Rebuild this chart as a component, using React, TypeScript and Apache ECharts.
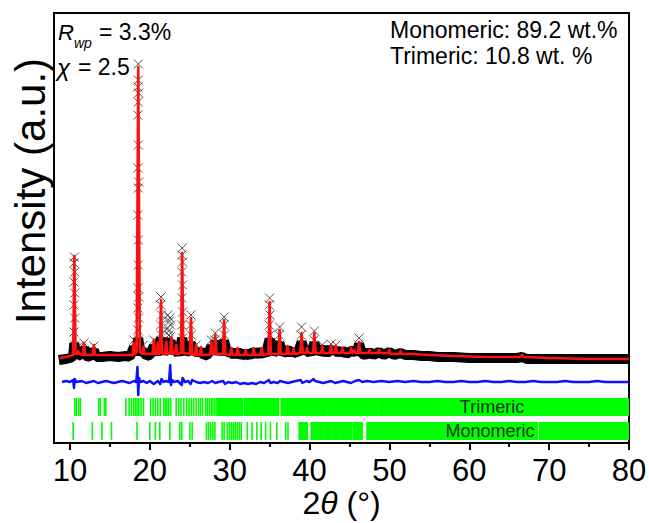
import { useEffect, useRef } from 'react';
import * as echarts from 'echarts';

// ---------- data (2θ in degrees, intensity in a.u.) ----------
const xTickValues = [10, 20, 30, 40, 50, 60, 70, 80];
const xMinorTickValues = [15, 25, 35, 45, 55, 65, 75];

// calculated profile (red)
const calcCurve: [number, number][] = [
  [8.7, 85], [9.5, 86], [10.0, 87], [10.4, 88], [10.55, 187], [10.7, 89], [10.95, 89], [11.05, 92], [11.15, 89],
  [11.6, 88], [11.75, 100], [11.9, 88], [12.85, 88], [13.0, 98], [13.15, 88], [14.0, 88], [15.0, 88], [16.0, 88],
  [17.0, 88], [17.85, 88], [18.0, 100], [18.15, 89], [18.35, 91], [18.55, 376], [18.75, 91], [19.05, 89], [19.2, 96],
  [19.35, 89], [20.35, 89], [20.5, 103], [20.65, 89], [20.85, 89], [21.0, 100], [21.15, 89], [21.25, 90], [21.4, 143],
  [21.55, 90], [21.9, 89], [22.05, 101], [22.2, 89], [22.55, 90], [22.7, 106], [22.85, 90], [23.15, 89], [23.3, 98],
  [23.45, 89], [23.9, 90], [24.05, 190], [24.2, 90], [25.0, 89], [25.15, 125], [25.3, 89], [25.65, 88], [25.8, 98],
  [25.95, 88], [26.3, 88], [26.4, 96], [26.5, 88], [27.55, 88], [27.7, 101], [27.85, 89], [28.05, 89], [28.2, 108],
  [28.35, 89], [29.15, 89], [29.3, 123], [29.45, 89], [30.05, 88], [30.2, 95], [30.35, 88], [30.85, 88], [31.0, 95],
  [31.15, 88], [31.85, 88], [32.0, 93], [32.15, 88], [32.85, 88], [33.0, 95], [33.15, 88], [33.85, 88], [34.0, 95],
  [34.15, 88], [34.85, 89], [35.0, 141], [35.15, 89], [36.1, 89], [36.25, 113], [36.4, 89], [37.1, 89], [37.25, 97],
  [37.4, 89], [37.85, 89], [38.0, 94], [38.15, 89], [38.85, 90], [39.0, 110], [39.15, 90], [39.55, 90], [39.7, 95],
  [39.85, 90], [40.45, 90], [40.6, 110], [40.75, 90], [41.45, 90], [41.6, 97], [41.75, 90], [42.55, 90], [42.7, 98],
  [42.85, 90], [43.15, 90], [43.3, 97], [43.45, 90], [43.95, 90], [44.1, 95], [44.25, 90], [45.05, 90], [45.2, 95],
  [45.35, 90], [45.5, 91], [45.6, 93], [45.75, 90], [46.05, 90], [46.2, 101], [46.35, 90], [47.35, 90], [47.5, 93],
  [47.65, 90], [48.55, 90], [48.7, 93], [48.85, 90], [49.85, 90], [50.0, 93], [50.15, 89], [51.25, 89], [51.4, 92],
  [51.55, 89], [53.0, 89], [55.0, 88], [58.0, 87], [62.0, 86], [66.3, 86], [66.6, 88], [66.9, 86], [70.0, 85],
  [75.0, 84], [80.0, 84],
];

// observed data: dense background trace
const obsBackground: [number, number][] = [
  [8.6, 83], [9.5, 84], [10.0, 85], [10.4, 87], [10.55, 100], [10.7, 88], [11.0, 89], [11.5, 87], [11.75, 96],
  [12.0, 87], [12.5, 86], [13.0, 93], [13.3, 86], [14.0, 86], [15.0, 87], [16.0, 86], [17.0, 87], [17.5, 86],
  [18.0, 96], [18.3, 88], [18.55, 105], [18.8, 89], [19.2, 92], [19.6, 87], [20.0, 88], [20.5, 97], [20.8, 88],
  [21.0, 95], [21.4, 105], [21.7, 89], [22.05, 96], [22.3, 100], [22.6, 102], [22.9, 90], [23.3, 94], [23.6, 88],
  [24.05, 105], [24.4, 89], [25.15, 100], [25.5, 89], [25.8, 94], [26.1, 88], [26.4, 93], [26.8, 87], [27.3, 89],
  [27.7, 97], [28.0, 90], [28.2, 102], [28.6, 89], [29.3, 102], [29.7, 89], [30.2, 92], [30.6, 87], [31.0, 92],
  [31.5, 87], [32.0, 90], [32.5, 87], [33.0, 92], [33.5, 88], [34.0, 92], [34.5, 88], [35.0, 104], [35.4, 89],
  [36.25, 100], [36.6, 89], [37.25, 94], [37.7, 89], [38.0, 92], [38.5, 89], [39.0, 101], [39.4, 90], [39.7, 93],
  [40.1, 89], [40.6, 100], [41.0, 90], [41.6, 95], [42.1, 89], [42.7, 95], [43.0, 90], [43.3, 94], [43.7, 89],
  [44.1, 93], [44.6, 89], [45.2, 92], [45.6, 92], [45.9, 89], [46.2, 99], [46.6, 89], [47.0, 88], [47.5, 91],
  [48.0, 88], [48.7, 91], [49.3, 88], [50.0, 91], [50.6, 88], [51.4, 90], [52.0, 88], [53.0, 88], [54.0, 87],
  [55.0, 87], [56.0, 86], [57.0, 86], [58.0, 86], [60.0, 85], [62.0, 85], [64.0, 85], [66.0, 85], [66.6, 86],
  [67.2, 84], [68.0, 84], [70.0, 84], [72.0, 84], [74.0, 84], [76.0, 84], [78.0, 84], [80.0, 84],
];

// observed data points on the Bragg peaks
const obsPeakPoints: [number, number][] = [
  [10.55, 186], [10.5, 180], [10.6, 171], [10.5, 161], [10.6, 150], [10.5, 138], [10.6, 125], [10.5, 111], [10.6, 98],
  [11.1, 97], [11.75, 100], [13.0, 97],
  [18.55, 379], [18.55, 363], [18.5, 356], [18.6, 350], [18.55, 341], [18.5, 328], [18.55, 298], [18.5, 275],
  [18.6, 261], [18.55, 255], [18.5, 228], [18.55, 203], [18.55, 178], [18.5, 155], [18.6, 146], [18.5, 135],
  [18.6, 125], [18.5, 113], [18.6, 103],
  [18.0, 103], [19.2, 98], [20.5, 103], [21.0, 100],
  [21.4, 146], [21.35, 138], [21.45, 128], [21.35, 118], [21.45, 108], [21.4, 98],
  [22.25, 128], [22.45, 122], [22.6, 118], [22.35, 112], [22.55, 106], [22.3, 101], [22.7, 98], [22.5, 125],
  [22.2, 115], [22.4, 108],
  [24.05, 195], [24.0, 188], [24.1, 181], [24.0, 171], [24.1, 158], [24.0, 145], [24.1, 131], [24.0, 118], [24.1, 105],
  [25.15, 128], [25.1, 118], [25.2, 108], [25.15, 98],
  [25.8, 98], [27.7, 103], [28.2, 110], [28.15, 103],
  [29.3, 126], [29.25, 118], [29.35, 108], [29.3, 98],
  [35.0, 145], [34.95, 138], [35.05, 128], [34.95, 118], [35.05, 108], [35.0, 98],
  [36.25, 116], [36.2, 108], [36.3, 98],
  [39.0, 116], [38.95, 108], [39.05, 98],
  [40.6, 112], [40.55, 103], [41.6, 98], [42.7, 99], [43.3, 98], [46.2, 105], [46.15, 98],
];

// difference (obs - calc), plotted with an offset
const diffCurve: [number, number][] = [
  [9.0, 0], [9.5, 1], [10.0, 0], [10.4, 2], [10.5, -6], [10.6, 3], [10.8, 0], [11.5, 1], [12.0, -1], [12.5, 0],
  [13.0, 1], [13.5, -1], [14.0, 0], [14.5, 1], [15.0, 0], [15.5, -1], [16.0, 0], [16.5, 1], [17.0, 0], [17.5, -1],
  [18.0, 1], [18.3, 0], [18.45, 15], [18.55, -13], [18.65, 4], [18.8, 0], [19.2, 1], [19.6, -1], [20.0, 1],
  [20.5, -2], [21.0, 1], [21.3, -2], [21.45, 3], [21.7, 0], [22.0, 1], [22.4, 0], [22.55, 17], [22.65, -3],
  [22.8, 2], [23.0, 0], [23.5, 1], [24.0, -3], [24.1, 4], [24.4, 0], [24.8, 1], [25.1, -2], [25.3, 2], [25.8, 0],
  [26.3, -1], [26.8, 0], [27.3, -1], [27.8, 1], [28.2, -1], [28.6, 0], [29.2, 1], [29.4, -2], [29.8, 0],
  [30.3, -1], [30.8, 0], [31.3, -2], [31.8, -1], [32.3, -2], [32.8, -1], [33.3, -2], [33.8, 0], [34.3, -1],
  [34.9, 2], [35.1, -1], [35.5, 0], [36.0, -1], [36.3, 1], [36.8, 0], [37.3, -1], [37.8, 0], [38.3, 1], [38.9, 2],
  [39.1, -1], [39.6, 1], [40.0, 0], [40.5, 3], [40.7, 1], [41.2, 0], [41.7, -1], [42.2, 0], [42.7, 1], [43.2, -1],
  [43.7, 0], [44.2, 1], [44.7, 0], [45.2, -1], [45.7, 1], [46.2, 2], [46.6, 0], [47.2, 1], [48.0, 0], [49.0, 1],
  [50.0, 0], [51.0, 1], [52.0, 0], [53.0, 1], [54.0, 0], [55.0, 0], [56.0, 1], [57.0, 0], [58.0, 0], [59.0, 1],
  [60.0, 0], [61.0, 0], [62.0, 1], [63.0, 0], [64.0, 0], [65.0, 1], [66.0, 0], [67.0, 0], [68.0, 1], [69.0, 0],
  [70.0, 0], [71.0, 0], [72.0, 1], [73.0, 0], [74.0, 0], [75.0, 0], [76.0, 1], [77.0, 0], [78.0, 0], [79.0, 0],
  [80.0, 0],
];

// Bragg reflection positions
const trimericLines: number[] = [
  10.6, 10.8, 11.1, 11.3, 13.6, 13.8, 14.3, 14.5, 17.0, 17.4, 17.7, 18.0, 18.2, 18.4, 18.6, 18.9, 19.2, 20.1,
  20.4, 20.7, 21.0, 21.3, 21.75, 21.95, 22.15, 22.35, 22.6, 23.3, 23.6, 23.9, 24.25, 24.6, 24.9, 25.2, 25.5, 25.8,
  26.1, 26.35, 26.6, 27.0, 27.2, 27.45, 27.7, 27.9, 28.15,
];
const trimericRanges: [number, number][] = [
  [28.4, 31.6], [31.85, 36.1], [36.45, 42.15], [42.3, 45.85], [46.0, 48.55], [48.7, 80],
];
const monomericLines: number[] = [
  10.4, 12.8, 14.0, 15.2, 18.4, 20.0, 20.7, 21.25, 22.5, 23.75, 24.0, 25.0, 25.3, 27.1, 27.35, 27.6, 27.9, 28.15,
  29.05, 29.3, 29.7, 29.95, 30.2, 30.45, 30.7, 30.95, 31.2, 31.45, 32.2, 32.8, 33.4, 33.95, 34.5, 35.1, 35.9,
  37.0, 37.3,
];
const monomericRanges: [number, number][] = [
  [38.7, 39.7], [40.2, 40.9], [41.05, 41.8], [41.95, 42.8], [42.95, 43.8], [43.95, 45.3], [45.5, 46.6],
  [47.2, 51.6], [51.75, 68.5], [68.8, 80],
];

// ---------- layout / style ----------
const DIFF_OFFSET = 61;
const TRI_ROW: [number, number] = [27, 45];
const MONO_ROW: [number, number] = [3, 21];
const FONT = "'Liberation Sans', Arial, Helvetica, sans-serif";
const GREEN = '#00ff00';

function tickSeries(name: string, lines: number[], ranges: [number, number][], row: [number, number]) {
  const data = lines.map((p) => [p, p] as [number, number]).concat(ranges);
  return {
    type: 'custom',
    name,
    data,
    encode: { x: [0, 1] },
    clip: true,
    z: 2,
    renderItem: (_params: any, api: any) => {
      const s = api.value(0);
      const e = api.value(1);
      const p0 = api.coord([s, row[1]]);
      const p1 = api.coord([e, row[0]]);
      return {
        type: 'rect',
        shape: { x: p0[0] - 0.8, y: p0[1], width: Math.max(p1[0] - p0[0], 0) + 1.6, height: p1[1] - p0[1] },
        style: { fill: GREEN },
      };
    },
  };
}

export default function App() {
  const ref = useRef<HTMLDivElement>(null);
  useEffect(() => {
    if (!ref.current) return;
    const chart = echarts.init(ref.current, undefined, { renderer: 'svg' });
    const crossSymbol = 'path://M0,0L10,10M10,0L0,10';
    const option: any = {
      animation: false,
      backgroundColor: '#fff',
      grid: {
        left: 54, top: 13, right: 20, bottom: 80, show: true, borderColor: '#000', borderWidth: 2,
        containLabel: false, outerBoundsMode: 'none',
      },
      xAxis: [
        {
          type: 'value', min: 8, max: 80, position: 'bottom',
          axisLine: { show: true, onZero: false, lineStyle: { color: '#000', width: 2 } },
          axisTick: { show: true, customValues: xTickValues, length: 7, lineStyle: { color: '#000', width: 2 } },
          axisLabel: { customValues: xTickValues, fontSize: 31, color: '#000', fontFamily: FONT, margin: 14, lineHeight: 27 },
          splitLine: { show: false },
          name: '2{it|θ} (°)',
          nameLocation: 'middle',
          nameGap: 45,
          nameMoveOverlap: false,
          nameTextStyle: {
            fontSize: 32, color: '#000', fontFamily: FONT, verticalAlign: 'top', lineHeight: 30,
            rich: { it: { fontSize: 32, fontStyle: 'italic', fontFamily: FONT, color: '#000', lineHeight: 30 } },
          },
        },
        {
          type: 'value', min: 8, max: 80, position: 'bottom',
          axisLine: { show: false, onZero: false },
          axisTick: { show: true, customValues: xMinorTickValues, length: 4, lineStyle: { color: '#000', width: 2 } },
          axisLabel: { show: false },
          splitLine: { show: false },
        },
      ],
      yAxis: {
        type: 'value', min: 0, max: 430,
        axisLine: { show: true, lineStyle: { color: '#000', width: 2 } },
        axisTick: { show: false },
        axisLabel: { show: false },
        splitLine: { show: false },
      },
      series: [
        {
          type: 'line', name: 'Observed background', data: obsBackground, showSymbol: false, z: 3, clip: true,
          lineStyle: { color: '#000', width: 10, join: 'bevel', cap: 'butt' },
        },
        {
          type: 'scatter', name: 'Observed', data: obsPeakPoints, symbol: crossSymbol, symbolSize: 9, z: 4,
          itemStyle: { color: 'rgba(0,0,0,0)', borderColor: '#2a2a2a', borderWidth: 1 },
        },
        {
          type: 'line', name: 'Calculated', data: calcCurve, showSymbol: false, z: 5,
          lineStyle: { color: '#ff1010', width: 2.6, join: 'round' },
        },
        {
          type: 'line', name: 'Difference', data: diffCurve.map(([x, d]) => [x, d + DIFF_OFFSET]), showSymbol: false, z: 5,
          lineStyle: { color: '#1010ff', width: 2.5, join: 'round' },
        },
        tickSeries('Trimeric', trimericLines, trimericRanges, TRI_ROW),
        tickSeries('Monomeric', monomericLines, monomericRanges, MONO_ROW),
      ],
      graphic: [
        { type: 'text', x: 30, y: 191, rotation: Math.PI / 2, style: { text: 'Intensity (a.u.)', fontSize: 42, fontFamily: FONT, fill: '#000', align: 'center', verticalAlign: 'middle' } },
        { type: 'text', x: 58, y: 32, style: { text: 'R', fontSize: 22, fontStyle: 'italic', fontFamily: FONT, fill: '#000', align: 'left', verticalAlign: 'middle' } },
        { type: 'text', x: 74, y: 43, style: { text: 'wp', fontSize: 14, fontStyle: 'italic', fontFamily: FONT, fill: '#000', align: 'left', verticalAlign: 'middle' } },
        { type: 'text', x: 99, y: 32, style: { text: '= 3.3%', fontSize: 23, fontFamily: FONT, fill: '#000', align: 'left', verticalAlign: 'middle' } },
        { type: 'text', x: 57, y: 67, style: { text: 'χ', fontSize: 24, fontStyle: 'italic', fontFamily: FONT, fill: '#000', align: 'left', verticalAlign: 'middle' } },
        { type: 'text', x: 78, y: 67, style: { text: '= 2.5', fontSize: 23, fontFamily: FONT, fill: '#000', align: 'left', verticalAlign: 'middle' } },
        { type: 'text', x: 390, y: 30, style: { text: 'Monomeric: 89.2 wt.%', fontSize: 23, fontFamily: FONT, fill: '#000', align: 'left', verticalAlign: 'middle' } },
        { type: 'text', x: 390, y: 56, style: { text: 'Trimeric: 10.8 wt. %', fontSize: 23, fontFamily: FONT, fill: '#000', align: 'left', verticalAlign: 'middle' } },
        { type: 'text', x: 492, y: 407, z: 10, style: { text: 'Trimeric', fontSize: 18, fontFamily: FONT, fill: '#123312', align: 'center', verticalAlign: 'middle' } },
        { type: 'text', x: 490, y: 431, z: 10, style: { text: 'Monomeric', fontSize: 18, fontFamily: FONT, fill: '#123312', align: 'center', verticalAlign: 'middle' } },
      ],
    };
    chart.setOption(option);
    return () => chart.dispose();
  }, []);
  return <div ref={ref} style={{ position: 'absolute', left: 0, top: 0, width: 649, height: 523, background: '#fff' }} />;
}
